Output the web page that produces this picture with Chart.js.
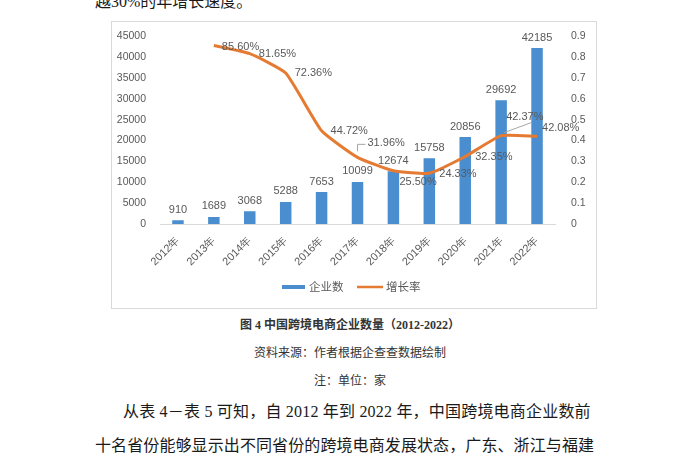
<!DOCTYPE html>
<html>
<head>
<meta charset="utf-8">
<script src="https://cdn.jsdelivr.net/npm/chart.js@4"></script>
<style>
  body { margin: 0; width: 700px; height: 470px; overflow: hidden; position: relative; background: #fff; }
  .txt { position: absolute; font-family: "Liberation Serif", "Noto Sans CJK SC", serif; color: #1a1a1a; white-space: nowrap; }
  .cap { left: 0; width: 700px; text-align: center; font-size: 12px; line-height: 20px; color: #333; }
  .body { font-size: 16px; line-height: 24px; }
  #box { position: absolute; left: 111px; top: 21px; width: 484px; height: 286px; border: 1px solid #d9d9d9; }
</style>
</head>
<body>
<div class="txt body" style="left:95px; top:-10px;">越30%的年增长速度。</div>

<div id="box"><canvas id="growthChart" width="484" height="286"></canvas></div>

<div class="txt cap" style="top:315px; font-weight:bold;">图 4 中国跨境电商企业数量（2012-2022）</div>
<div class="txt cap" style="top:343px;">资料来源：作者根据企查查数据绘制</div>
<div class="txt cap" style="top:371px;">注：单位：家</div>

<div class="txt body" style="left:123px; top:400px; letter-spacing:0.2px;">从表 4－表 5 可知，自 2012 年到 2022 年，中国跨境电商企业数前</div>
<div class="txt body" style="left:95px; top:434px; letter-spacing:0.1px;">十名省份能够显示出不同省份的跨境电商发展状态，广东、浙江与福建</div>

<script>
/* ==============================
   Data
============================== */
const years = ['2012年', '2013年', '2014年', '2015年', '2016年', '2017年', '2018年', '2019年', '2020年', '2021年', '2022年'];
const companyCounts = [910, 1689, 3068, 5288, 7653, 10099, 12674, 15758, 20856, 29692, 42185];
const growthRates = [null, 0.856, 0.8165, 0.7236, 0.4472, 0.3196, 0.2550, 0.2433, 0.3235, 0.4237, 0.4208];
const countAxisMax = 45000;
const countAxisStep = 5000;
const rateAxisMax = 0.9;
const rateAxisStep = 0.1;
const seriesNames = ['企业数', '增长率'];

/* ==============================
   Styling
============================== */
const barColor = '#4A8ED0';
const lineColor = '#E57B33';
const textGray = '#595959';
const labelFont = '11px "Liberation Sans", Arial, sans-serif';
// label nudges [dx, dy] relative to each line point (like Excel "right" labels, some moved by hand)
const rateLabelNudge = [null, [8, 1], [9, 0], [9, 0], [9, 0], [10, -14], [6, 11], [10, 1], [10, 0], [5, -19], [5, -8]];

function pct(v) { return (v * 100).toFixed(2) + '%'; }

/* ==============================
   Plugin: data labels + legend
============================== */
const labelsPlugin = {
    id: 'labelsPlugin',
    afterDatasetsDraw(chart) {
        const ctx = chart.ctx;
        ctx.save();
        ctx.font = labelFont;
        ctx.fillStyle = textGray;

        // bar labels
        const barMeta = chart.getDatasetMeta(1);
        barMeta.data.forEach((bar, i) => {
            ctx.textAlign = 'center';
            ctx.textBaseline = 'bottom';
            ctx.fillText(String(companyCounts[i]), bar.x, bar.y - 5);
        });

        // line labels
        const lineMeta = chart.getDatasetMeta(0);
        lineMeta.data.forEach((pt, i) => {
            if (growthRates[i] == null) return;
            const [dx, dy] = rateLabelNudge[i];
            ctx.textAlign = 'left';
            ctx.textBaseline = 'middle';
            ctx.fillStyle = textGray;
            ctx.fillText(pct(growthRates[i]), pt.x + dx, pt.y + dy);
            // leader lines for moved labels
            if (dy <= -12) {
                ctx.strokeStyle = '#a6a6a6';
                ctx.lineWidth = 1;
                ctx.beginPath();
                if (i === 5) {
                    ctx.moveTo(pt.x, pt.y - 6);
                    ctx.lineTo(pt.x, pt.y + dy + 1);
                    ctx.lineTo(pt.x + dx - 2, pt.y + dy + 1);
                } else {
                    ctx.moveTo(pt.x + 3, pt.y - 3);
                    ctx.lineTo(pt.x + 30, pt.y + dy + 6);
                }
                ctx.stroke();
            }
        });
        ctx.restore();
    },
    afterDraw(chart) {
        const ctx = chart.ctx;
        const y = 265;
        ctx.save();
        ctx.fillStyle = barColor;
        ctx.fillRect(170, y - 2, 23, 4);
        ctx.strokeStyle = lineColor;
        ctx.lineWidth = 2.5;
        ctx.beginPath();
        ctx.moveTo(245, y);
        ctx.lineTo(271, y);
        ctx.stroke();
        ctx.fillStyle = textGray;
        ctx.font = '11.5px "Noto Sans CJK SC", sans-serif';
        ctx.textAlign = 'left';
        ctx.textBaseline = 'middle';
        ctx.fillText(seriesNames[0], 197, y);
        ctx.fillText(seriesNames[1], 274, y);
        ctx.restore();
    }
};

/* ==============================
   Chart
============================== */
const tickFont = { family: '"Liberation Sans", Arial, sans-serif', size: 10.5 };

new Chart(document.getElementById('growthChart'), {
    type: 'bar',
    data: {
        labels: years,
        datasets: [
            {
                type: 'line',
                label: seriesNames[1],
                data: growthRates,
                yAxisID: 'yRate',
                borderColor: lineColor,
                borderWidth: 3,
                pointRadius: 0,
                tension: 0.15,
                fill: false,
                order: 0
            },
            {
                type: 'bar',
                label: seriesNames[0],
                data: companyCounts,
                yAxisID: 'yCount',
                backgroundColor: barColor,
                categoryPercentage: 1,
                barPercentage: 0.32,
                order: 1
            }
        ]
    },
    options: {
        responsive: false,
        animation: false,
        layout: { padding: { top: 14, left: 0, right: 0, bottom: 0 } },
        plugins: { legend: { display: false }, tooltip: { enabled: false } },
        scales: {
            x: {
                grid: { display: false },
                border: { display: true, color: '#d9d9d9' },
                ticks: { color: textGray, font: { family: tickFont.family, size: 11 }, minRotation: 45, maxRotation: 45, padding: 2 },
                afterFit(scale) { scale.height = 84; }
            },
            yCount: {
                position: 'left',
                min: 0,
                max: countAxisMax,
                grid: { display: false },
                border: { display: false },
                ticks: { stepSize: countAxisStep, color: textGray, font: tickFont, padding: 6, callback: v => String(v) },
                afterFit(scale) { scale.width = 48; }
            },
            yRate: {
                position: 'right',
                min: 0,
                max: rateAxisMax,
                grid: { display: false },
                border: { display: false },
                ticks: { stepSize: rateAxisStep, color: textGray, font: tickFont, padding: 8, callback: v => v === 0 ? '0' : Number(v).toFixed(1) },
                afterFit(scale) { scale.width = 41; }
            }
        }
    },
    plugins: [labelsPlugin]
});
</script>
</body>
</html>
